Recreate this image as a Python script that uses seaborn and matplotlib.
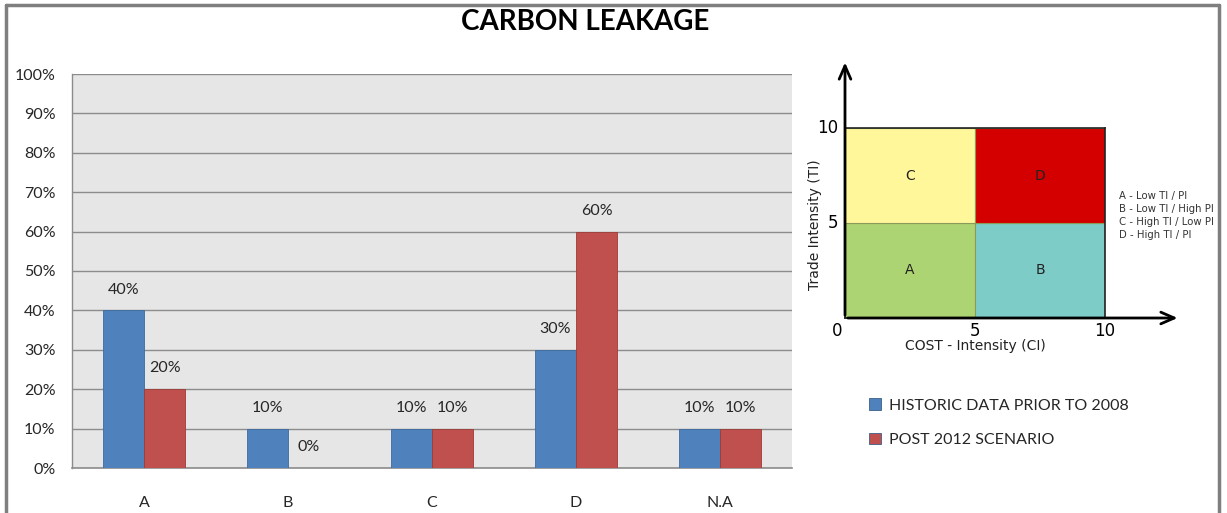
import matplotlib
matplotlib.use("Agg")
import matplotlib.pyplot as plt
from matplotlib.lines import Line2D
from matplotlib.ticker import FuncFormatter, MultipleLocator
import pandas as pd
import seaborn as sns

categories = ["A", "B", "C", "D", "N.A"]
historic = [40, 10, 10, 30, 10]
post2012 = [20, 0, 10, 60, 10]
series_names = ["HISTORIC DATA PRIOR TO 2008", "POST 2012 SCENARIO"]
series_colors = ["#4F81BD", "#C0504D"]

quad_labels = ["A", "B", "C", "D"]
quad_x = [0, 5, 0, 5]
quad_y = [0, 0, 5, 5]
quad_size = 5
quad_colors = ["#ADD473", "#7ECCC8", "#FFF799", "#D40000"]
quad_key = ["A - Low TI / PI", "B - Low TI / High PI",
            "C - High TI / Low PI", "D - High TI / PI"]

sns.set_theme(style="white")
plt.rcParams["font.family"] = ["Lato", "DejaVu Sans"]

W, H = 1227, 513
fig = plt.figure(figsize=(W / 100, H / 100), dpi=100)

def px_box(x0, y0, x1, y1):
    return [x0 / W, 1 - y1 / H, (x1 - x0) / W, (y1 - y0) / H]

# frame around the whole figure
for xs, ys in [([6 / W, 6 / W], [0, 1 - 5 / H]),
               ([6 / W, 1219 / W], [1 - 5 / H, 1 - 5 / H]),
               ([1219 / W, 1219 / W], [0, 1 - 5 / H])]:
    fig.add_artist(Line2D(xs, ys, color="#7F7F7F", lw=2.5))

fig.text(585 / W, 1 - 22 / H, "CARBON LEAKAGE", ha="center", va="center",
         fontsize=20, fontweight="bold", color="black")

# ---- grouped bar chart ----
df = pd.DataFrame({
    "category": categories * 2,
    "value": historic + post2012,
    "series": [series_names[0]] * len(categories) + [series_names[1]] * len(categories),
})
ax = fig.add_axes(px_box(72, 74, 792, 468))
ax.set_facecolor("#E6E6E6")
sns.barplot(data=df, x="category", y="value", hue="series", order=categories,
            hue_order=series_names, palette=series_colors, width=0.57,
            saturation=1, edgecolor="#3A5F8A", linewidth=0.6, ax=ax,
            legend=True, zorder=3)
for cont, ec in zip(ax.containers, ["#3B6A9E", "#9E3B38"]):
    for bar in cont:
        bar.set_edgecolor(ec)
    ax.bar_label(cont, labels=[f"{v:.0f}%" for v in cont.datavalues],
                 padding=10, fontsize=11.5, color="#262626")
ax.set_ylim(0, 100)
ax.set_xlim(-0.5, len(categories) - 0.5)
ax.yaxis.set_major_locator(MultipleLocator(10))
ax.yaxis.set_major_formatter(FuncFormatter(lambda v, p: f"{v:.0f}%"))
ax.grid(axis="y", color="#8C8C8C", lw=1, zorder=0)
ax.set_axisbelow(True)
ax.set_xlabel("")
ax.set_ylabel("")
ax.tick_params(axis="y", length=0, pad=12, labelsize=11.5, labelcolor="#262626")
ax.tick_params(axis="x", length=0, pad=20, labelsize=11.5, labelcolor="#262626")
for s in ["top", "right"]:
    ax.spines[s].set_visible(False)
ax.spines["left"].set_color("#8C8C8C")
ax.spines["bottom"].set_color("#8C8C8C")
ax.spines["left"].set_linewidth(1)
ax.spines["bottom"].set_linewidth(1.2)

handles, labels = ax.get_legend_handles_labels()
ax.legend_.remove()
fig.legend(handles, labels, loc="upper left",
           bbox_to_anchor=(855 / W, 1 - 384 / H), frameon=False,
           handlelength=0.7, handleheight=0.7, handletextpad=0.5,
           labelspacing=1.25, fontsize=11.5, labelcolor="#262626")

# ---- intensity quadrant diagram ----
qa = fig.add_axes(px_box(845, 128, 1105, 318))
qa.bar(quad_x, [quad_size] * 4, bottom=quad_y, width=quad_size, align="edge",
       color=quad_colors, edgecolor="#8A9A5B", linewidth=0.8)
for lab, x, y in zip(quad_labels, quad_x, quad_y):
    qa.text(x + quad_size / 2, y + quad_size / 2, lab, ha="center", va="center",
            fontsize=10, color="#222222", family=["DejaVu Sans"])
qa.set_xlim(0, 10)
qa.set_ylim(0, 10)
for s in qa.spines.values():
    s.set_color("#222222")
    s.set_linewidth(1.2)
qa.set_xticks([])
qa.set_yticks([])
arrow = dict(arrowstyle="->,head_length=0.8,head_width=0.35", color="black", lw=2)
qa.annotate("", xy=(12.9, 0), xytext=(0, 0), arrowprops=arrow,
            annotation_clip=False)
qa.annotate("", xy=(0, 13.6), xytext=(0, 0), arrowprops=arrow,
            annotation_clip=False)
num_font = dict(fontsize=12, color="black", family=["DejaVu Sans"])
qa.text(-0.3, -0.2, "0", ha="center", va="top", **num_font)
qa.text(5, -0.2, "5", ha="center", va="top", **num_font)
qa.text(10, -0.2, "10", ha="center", va="top", **num_font)
qa.text(-0.25, 10, "10", ha="right", va="center", **num_font)
qa.text(-0.25, 5, "5", ha="right", va="center", **num_font)
qa.text(5, -1.1, "COST - Intensity (CI)", ha="center", va="top",
        fontsize=10, color="#222222", family=["DejaVu Sans"])
qa.text(-1.15, 4.9, "Trade Intensity (TI)", ha="center", va="center",
        rotation=90, fontsize=10, color="#222222", family=["DejaVu Sans"])
for i, t in enumerate(quad_key):
    qa.text(10.55, 6.4 - i * 0.68, t, ha="left", va="center", fontsize=7.3,
            color="#333333", family=["DejaVu Sans"])

fig.savefig("out.png", dpi=100)
